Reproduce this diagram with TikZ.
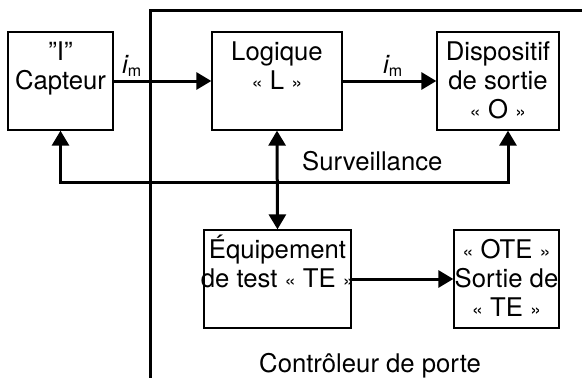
\documentclass[tikz,border=0pt]{standalone}
\usepackage{fontspec}
\setmainfont{TeX Gyre Heros}
\usetikzlibrary{arrows.meta}
\tikzset{
  box/.style={draw=black, line width=1.3pt, inner sep=0pt},
  lbl/.style={inner sep=0pt, align=center, font=\fontsize{25.7}{29}\selectfont},
  txt/.style={inner sep=0pt, font=\fontsize{25.7}{29}\selectfont},
  flow/.style={line width=3pt, -{Triangle[length=15pt,width=17pt]}},
  both/.style={line width=3pt, {Triangle[length=15pt,width=17pt]}-{Triangle[length=15pt,width=17pt]}},
  frame/.style={line width=3pt},
}
\newcommand{\imlabel}{{\itshape i}\raisebox{-3pt}{\fontsize{16}{16}\selectfont m}}
% small French quotation marks
\newcommand{\gqL}{\raisebox{0.5pt}{\fontsize{20}{20}\selectfont«}}
\newcommand{\gqR}{\raisebox{0.5pt}{\fontsize{20}{20}\selectfont»}}
% fixed-height strut so that the first baseline sits 24pt below the node top
\newcommand{\topstrut}{\rule{0pt}{24pt}}
\begin{document}
\begin{tikzpicture}[x=1pt,y=-1pt]
\useasboundingbox (0,0) rectangle (582,378);

% controller frame (left and top edges)
\coordinate (fb) at (150,380);
\coordinate (fc) at (150,10);
\coordinate (fr) at (584,10);
\draw[frame] (fb) -- (fc) -- (fr);

% blocks
\node[box, minimum width=105pt, minimum height=98pt] (cap) at (60.5,81) {};
\node[box, minimum width=130pt, minimum height=98pt] (log) at (277,81) {};
\node[box, minimum width=122pt, minimum height=98pt] (out) at (498,81) {};
\node[box, minimum width=147pt, minimum height=98pt] (te)  at (277.5,279) {};
\node[box, minimum width=105pt, minimum height=98pt] (ote) at (506.5,279) {};

% block texts (first baseline 29pt below the top edge)
\node[lbl, anchor=north] at ([yshift=-5pt]cap.north) {\topstrut"I"\\Capteur};
\node[lbl, anchor=north] at ([yshift=-5pt]log.north) {\topstrut Logique\\\gqL{} L \gqR};
\node[lbl, anchor=north] at ([yshift=-5pt]out.north) {\topstrut Dispositif\\de sortie\\\gqL{} O \gqR};
\node[lbl, anchor=north] at ([yshift=-5pt]te.north) {\topstrut Équipement\\de test \gqL{} TE \gqR};
\node[lbl, anchor=north] at ([yshift=-5pt]ote.north) {\topstrut\gqL{} OTE \gqR\\Sortie de\\\gqL{} TE \gqR};

% signal path
\draw[flow] (cap.east) -- (log.west);
\draw[flow] (log.east) -- (out.west);
\node[txt, anchor=base west] (im1) at (122,73) {\imlabel};
\node[txt, anchor=base west] (im2) at (383,73) {\imlabel};

% monitoring loop
\coordinate (svR) at (508,182);
\draw[both] (cap.south) |- (svR) -- ([xshift=10pt]out.south);
\node[txt, anchor=base west] (sv) at (302,170) {Surveillance};

% logic <-> test equipment
\draw[both] (log.south) -- (te.north);
\draw[flow] (te.east) -- (ote.west);

\node[txt, anchor=base west] (ctl) at (259,372) {Contrôleur de porte};
\end{tikzpicture}
\end{document}
